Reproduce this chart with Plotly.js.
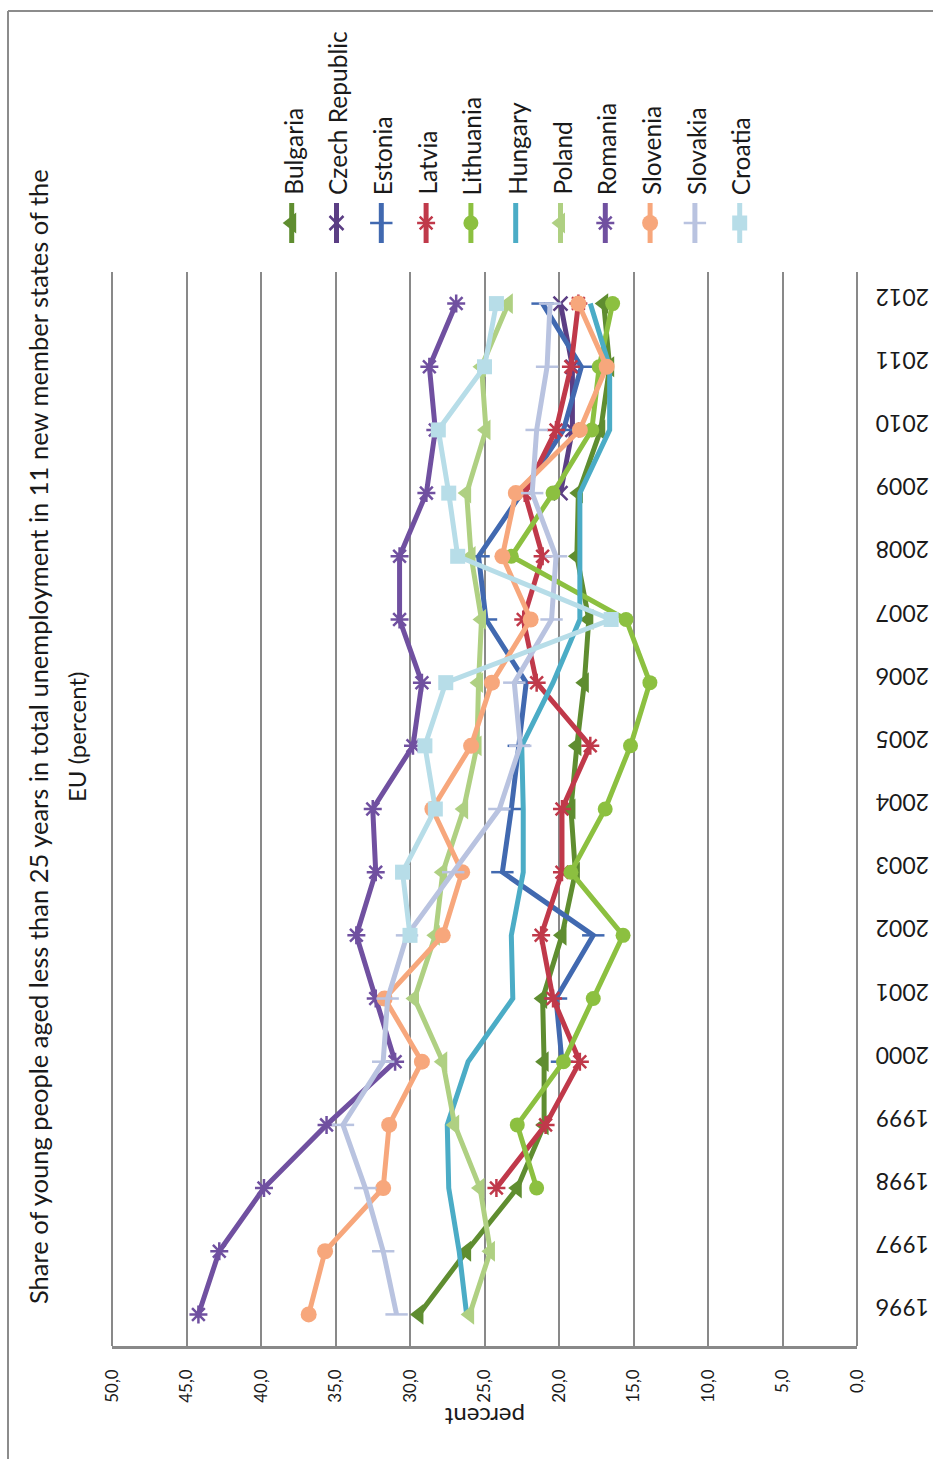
<!DOCTYPE html>
<html>
<head>
<meta charset="utf-8">
<script src="https://cdn.plot.ly/plotly-3.0.1.min.js"></script>
<style>
html,body{margin:0;padding:0;background:#fff;}
#chart{width:933px;height:1459px;}
</style>
</head>
<body>
<div id="chart"></div>
<script>
// ---------- DATA ----------
const years = [1996,1997,1998,1999,2000,2001,2002,2003,2004,2005,2006,2007,2008,2009,2010,2011,2012];
const yearLabels = ["1996","1997","1998","1999","2000","2001","2002","2003","2004","2005","2006","2007","2008","2009","2010","2011","2012"];
const xTicks = [0,5,10,15,20,25,30,35,40,45,50];

const countries = ["Bulgaria","Czech Republic","Estonia","Latvia","Lithuania","Hungary","Poland","Romania","Slovenia","Slovakia","Croatia"];

const bulgaria  = [29.4,26.2,22.8,21.0,21.0,21.1,19.8,18.9,19.2,18.8,18.3,18.0,18.8,18.7,17.2,16.6,17.0];
const czech     = [null,null,null,null,null,null,null,null,null,null,null,null,null,19.9,19.1,19.1,19.9];
const estonia   = [null,null,null,null,19.8,20.2,17.7,23.8,23.2,22.7,22.2,24.9,25.4,22.5,19.7,18.5,21.1];
const latvia    = [null,null,24.2,20.9,18.6,20.4,21.2,19.8,19.8,17.9,21.5,22.4,21.1,22.3,20.2,19.2,18.7];
const lithuania = [null,null,21.5,22.8,19.7,17.7,15.7,19.2,16.9,15.2,13.9,15.5,23.2,20.4,17.8,17.3,16.4];
const hungary   = [26.2,26.7,27.4,27.5,26.1,23.1,23.2,22.4,22.4,22.5,20.4,18.6,18.6,18.6,16.6,16.6,17.9];
const poland    = [26.0,24.6,25.3,27.0,27.8,29.7,28.3,27.8,26.4,25.5,25.4,25.2,25.9,26.2,24.9,25.2,23.4];
const romania   = [44.2,42.8,39.8,35.6,31.0,32.3,33.6,32.3,32.5,29.8,29.2,30.7,30.7,28.9,28.3,28.7,26.9];
const slovenia  = [36.8,35.7,31.8,31.4,29.2,31.7,27.8,26.5,28.5,25.9,24.5,21.9,23.8,22.9,18.6,16.8,18.7];
const slovakia  = [30.9,31.8,33.0,34.5,31.8,31.5,30.2,27.1,24.0,22.6,23.0,20.5,20.2,21.8,21.5,20.8,20.6];
const croatia   = [null,null,null,null,null,null,30.0,30.5,28.3,29.0,27.6,16.5,26.8,27.4,28.1,25.0,24.2];

const seriesValues = [bulgaria,czech,estonia,latvia,lithuania,hungary,poland,romania,slovenia,slovakia,croatia];

// ---------- STYLES ----------
const styles = [
  {color:"#5F8D30", symbol:"triangle-left", size:18, open:false},
  {color:"#5B3E84", symbol:"x-thin-open",   size:14, open:true},
  {color:"#4169B0", symbol:"line-ew-open",  size:16, open:true},
  {color:"#C0394A", symbol:"asterisk-open", size:15, open:true},
  {color:"#8CC040", symbol:"circle",        size:15, open:false},
  {color:"#4BACC6", symbol:null,            size:0,  open:false},
  {color:"#AFD082", symbol:"triangle-left", size:18, open:false},
  {color:"#7050A0", symbol:"asterisk-open", size:15, open:true},
  {color:"#F7A77C", symbol:"circle",        size:16, open:false},
  {color:"#B9C3E0", symbol:"line-ew-open",  size:16, open:true},
  {color:"#B7DDE8", symbol:"square",        size:15, open:false}
];

// layout geometry (pixels)
const W = 933, H = 1459;
const marginTop = 180;
const plotL = 112, plotR = 857, plotT = 272, plotB = 1346;
const areaH = plotB - marginTop;
const pxToPaperX = px => (px - plotL) / (plotR - plotL);
const pxToPaperY = py => (plotB - py) / areaH;
const mainTop = pxToPaperY(plotT);
const legAreaBottomPx = 255;

const font = "Lato, 'Open Sans', sans-serif";
const textColor = "#1a1a1a";
const gridColor = "#898989";

function markerFor(st){
  if(!st.symbol) return {size:0};
  return st.open
    ? {symbol:st.symbol, size:st.size, color:st.color, line:{color:st.color, width:2.5}}
    : {symbol:st.symbol, size:st.size, color:st.color, line:{width:0}};
}

const traces = [];
seriesValues.forEach((vals, i) => {
  const st = styles[i];
  traces.push({
    type:"scatter",
    mode: st.symbol ? "lines+markers" : "lines",
    name: countries[i],
    x: vals, y: years,
    line:{color:st.color, width:5},
    marker: markerFor(st),
    connectgaps:false,
    cliponaxis:false,
    showlegend:false
  });
});

// custom rotated legend drawn on a helper axis pair (pixel units)
const legX0 = 291.7, legStep = 44.8, legTop = 203, legBot = 243, legMid = 223, legTextBottom = 197;
const shapes = [];
const annotations = [];
countries.forEach((c, i) => {
  const st = styles[i];
  const px = legX0 + legStep * i;
  traces.push({type:"scatter", mode:"lines", xaxis:"x2", yaxis:"y2",
    x:[px, px], y:[legTop, legBot], line:{color:st.color, width:5},
    showlegend:false, hoverinfo:"skip", cliponaxis:false});
  if(st.symbol){
    traces.push({type:"scatter", mode:"markers", xaxis:"x2", yaxis:"y2",
      x:[px], y:[legMid], marker: markerFor(st), cliponaxis:false,
      showlegend:false, hoverinfo:"skip"});
  }
  annotations.push({xref:"paper", yref:"paper", x:pxToPaperX(px + 1.5), y:pxToPaperY(legTextBottom),
    xanchor:"center", yanchor:"bottom", textangle:-90, showarrow:false,
    text:c, font:{family:font, size:24.5, color:textColor}});
});

// title (two lines, rotated)
annotations.push({xref:"paper", yref:"paper", x:pxToPaperX(38), y:pxToPaperY(737),
  xanchor:"center", yanchor:"middle", textangle:-90, showarrow:false,
  text:"Share of young people aged less than 25 years in total unemployment in 11 new member states of the",
  font:{family:font, size:25.5, color:textColor}});
annotations.push({xref:"paper", yref:"paper", x:pxToPaperX(76), y:pxToPaperY(737),
  xanchor:"center", yanchor:"middle", textangle:-90, showarrow:false,
  text:"EU (percent)", font:{family:font, size:24, color:textColor}});
// axis title, upside down
annotations.push({xref:"paper", yref:"paper", x:pxToPaperX(485), y:pxToPaperY(1418),
  xanchor:"center", yanchor:"middle", textangle:180, showarrow:false,
  text:"percent", font:{family:font, size:24, color:textColor}});

// vertical lines at the two ends of the value axis
[0, 1].forEach(px => shapes.push({type:"line", xref:"paper", yref:"paper", layer:"below",
  x0:px, x1:px, y0:0, y1:mainTop, line:{color:gridColor, width:2}}));

// outer frame (top and left edges visible)
shapes.push({type:"line", xref:"paper", yref:"paper",
  x0:pxToPaperX(8), x1:pxToPaperX(W+5), y0:pxToPaperY(11), y1:pxToPaperY(11),
  line:{color:"#8C8C8C", width:2}});
shapes.push({type:"line", xref:"paper", yref:"paper",
  x0:pxToPaperX(8), x1:pxToPaperX(8), y0:pxToPaperY(11), y1:pxToPaperY(H+5),
  line:{color:"#8C8C8C", width:2}});

const layout = {
  width:W, height:H,
  margin:{l:plotL, r:W-plotR, t:marginTop, b:H-plotB, pad:0},
  paper_bgcolor:"#ffffff", plot_bgcolor:"rgba(0,0,0,0)",
  separators:", ",
  showlegend:false,
  font:{family:font, color:textColor},
  xaxis:{
    range:[50, 0], tickvals:xTicks, tickformat:".1f",
    tickangle:-90, tickfont:{family:font, size:17, color:textColor},
    ticks:"", ticklabelstandoff:14,
    showgrid:true, gridcolor:gridColor, gridwidth:2,
    zeroline:false, showline:true, linecolor:gridColor, linewidth:2.5,
    anchor:"y", fixedrange:true
  },
  yaxis:{
    domain:[0, mainTop],
    range:[1995.5, 2012.5], side:"right", tickvals:years, ticktext:yearLabels,
    tickangle:180, tickfont:{family:font, size:23, color:textColor},
    ticks:"", ticklabelstandoff:71,
    showgrid:false, zeroline:false, showline:false, anchor:"x", fixedrange:true
  },
  xaxis2:{domain:[0,1], range:[plotL, plotR], anchor:"y2", visible:false, fixedrange:true},
  yaxis2:{domain:[pxToPaperY(legAreaBottomPx), 1], range:[legAreaBottomPx, marginTop], anchor:"x2", visible:false, fixedrange:true},
  shapes:shapes,
  annotations:annotations
};

Plotly.newPlot("chart", traces, layout, {displayModeBar:false, staticPlot:true});
</script>
</body>
</html>
